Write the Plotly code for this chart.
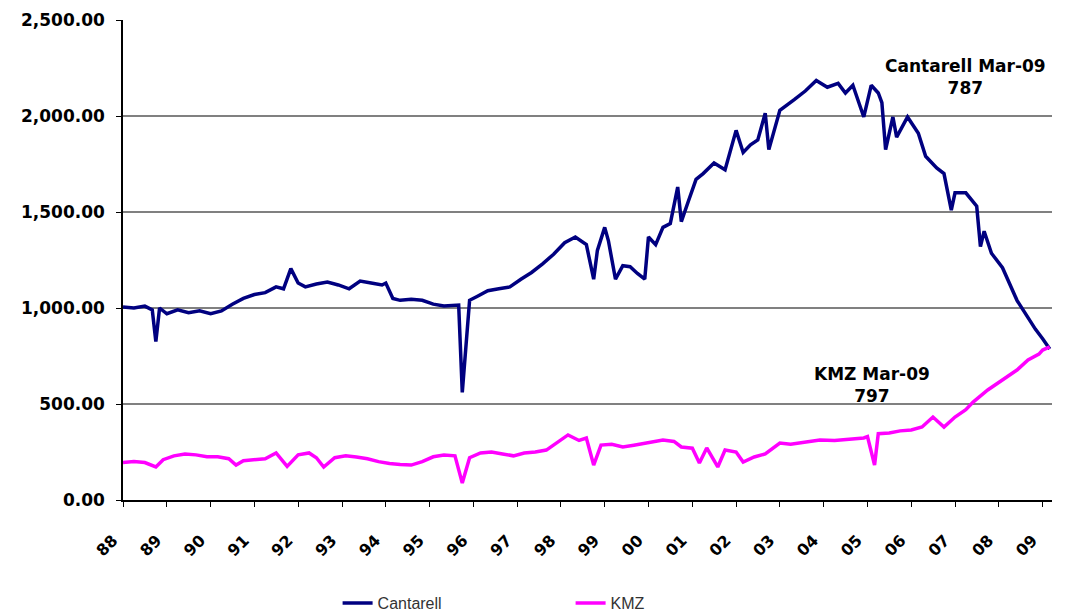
import plotly.graph_objects as go

# Cantarell field production (thousand barrels per day)
cantarell_dates = [
    "1988-01", "1988-04", "1988-07", "1988-09", "1988-10", "1988-11",
    "1989-01", "1989-04", "1989-07", "1989-10", "1990-01", "1990-04",
    "1990-07", "1990-10", "1991-01", "1991-04", "1991-07", "1991-09",
    "1991-11", "1992-01", "1992-03", "1992-06", "1992-09", "1992-12",
    "1993-03", "1993-06", "1993-09", "1993-12", "1994-01", "1994-03",
    "1994-05", "1994-08", "1994-11", "1995-02", "1995-05", "1995-09",
    "1995-10", "1995-12", "1996-02", "1996-05", "1996-08", "1996-11",
    "1997-02", "1997-05", "1997-08", "1997-11", "1998-02", "1998-05",
    "1998-08", "1998-10", "1998-11", "1999-01", "1999-02", "1999-04",
    "1999-06", "1999-08", "1999-10", "1999-12", "2000-01", "2000-03",
    "2000-05", "2000-07", "2000-09", "2000-10", "2000-12", "2001-02",
    "2001-04", "2001-07", "2001-10", "2002-01", "2002-03", "2002-05",
    "2002-07", "2002-09", "2002-10", "2003-01", "2003-05", "2003-08",
    "2003-11", "2004-02", "2004-05", "2004-07", "2004-09", "2004-12",
    "2005-02", "2005-04", "2005-05", "2005-06", "2005-08", "2005-09",
    "2005-12", "2006-03", "2006-05", "2006-08", "2006-10", "2006-12",
    "2007-01", "2007-04", "2007-07", "2007-08", "2007-09", "2007-11",
    "2008-02", "2008-04", "2008-06", "2008-09", "2008-11", "2009-01",
    "2009-03",
]
cantarell_values = [
    1005, 1000, 1010, 990, 825, 1000,
    970, 990, 975, 985, 970, 985,
    1020, 1050, 1070, 1080, 1110, 1100,
    1205, 1130, 1110, 1125, 1135, 1120,
    1100, 1140, 1130, 1120, 1130, 1050,
    1040, 1045, 1040, 1020, 1010, 1015,
    560, 1040, 1060, 1090, 1100, 1110,
    1150, 1185, 1230, 1280, 1340, 1370,
    1330, 1150, 1300, 1420, 1350, 1150,
    1220, 1215, 1180, 1150, 1370, 1330,
    1420, 1440, 1630, 1450, 1560, 1670,
    1700, 1755, 1720, 1925, 1810, 1850,
    1875, 2015, 1825, 2030, 2085, 2130,
    2185, 2150, 2170, 2120, 2160, 1995,
    2160, 2120, 2070, 1825, 1995, 1890,
    1995, 1910, 1790, 1730, 1700, 1510,
    1600, 1600, 1530, 1320, 1400, 1285,
    1210, 1120, 1040, 950, 890, 840,
    787,
]

# Ku-Maloob-Zaap production (thousand barrels per day)
kmz_dates = [
    "1988-01", "1988-04", "1988-07", "1988-10", "1988-12", "1989-03",
    "1989-06", "1989-09", "1989-12", "1990-03", "1990-06", "1990-08",
    "1990-10", "1991-01", "1991-04", "1991-07", "1991-10", "1992-01",
    "1992-04", "1992-06", "1992-08", "1992-11", "1993-02", "1993-05",
    "1993-08", "1993-11", "1994-02", "1994-05", "1994-08", "1994-11",
    "1995-02", "1995-05", "1995-08", "1995-10", "1995-12", "1996-03",
    "1996-06", "1996-09", "1996-12", "1997-03", "1997-06", "1997-09",
    "1997-12", "1998-03", "1998-06", "1998-08", "1998-10", "1998-12",
    "1999-03", "1999-06", "1999-09", "2000-01", "2000-05", "2000-08",
    "2000-10", "2001-01", "2001-03", "2001-05", "2001-08", "2001-10",
    "2002-01", "2002-03", "2002-06", "2002-09", "2003-01", "2003-04",
    "2003-08", "2003-12", "2004-04", "2004-08", "2004-12", "2005-01",
    "2005-03", "2005-04", "2005-07", "2005-10", "2006-01", "2006-04",
    "2006-07", "2006-10", "2007-01", "2007-04", "2007-06", "2007-10",
    "2008-03", "2008-06", "2008-09", "2008-12", "2009-01", "2009-03",
]
kmz_values = [
    195, 200, 195, 172, 210, 230,
    240, 235, 225, 225, 215, 182,
    205, 210, 215, 245, 175, 235,
    245, 220, 172, 220, 230, 224,
    215, 200, 190, 185, 182, 200,
    225, 234, 230, 88, 220, 245,
    250, 240, 230, 245, 250, 260,
    300, 339, 310, 323, 182, 286,
    290, 276, 285, 300, 312, 305,
    276, 270, 193, 271, 172, 260,
    250, 198, 224, 240, 297, 290,
    300, 312, 310, 315, 323, 330,
    182, 345, 349, 360, 365, 380,
    432, 380, 432, 470, 510, 573,
    640, 677, 729, 760, 781, 797,
]

series_names = ["Cantarell", "KMZ"]
series_colors = ["#000080", "#FF00FF"]

y_ticks = [0, 500, 1000, 1500, 2000, 2500]

notes = [
    ("Cantarell Mar-09<br>787", 0.907, 0.881),
    ("KMZ Mar-09<br>797", 0.806, 0.240),
]

fig = go.Figure()
for name, color, xs, ys in [
    (series_names[0], series_colors[0], cantarell_dates, cantarell_values),
    (series_names[1], series_colors[1], kmz_dates, kmz_values),
]:
    fig.add_trace(go.Scatter(
        x=xs, y=ys, mode="lines", name=name,
        line=dict(color=color, width=3.5),
    ))

bold_font = dict(family="DejaVu Sans", size=17, color="#000000", weight="bold")

for text, px, py in notes:
    fig.add_annotation(
        text=text, x=px, y=py, xref="paper", yref="paper",
        xanchor="center", yanchor="middle",
        showarrow=False, font=bold_font, align="center",
    )

fig.update_layout(
    width=1072, height=615,
    margin=dict(l=123, r=20, t=20, b=115, autoexpand=False),
    paper_bgcolor="white", plot_bgcolor="white",
    showlegend=True,
    legend=dict(
        orientation="h", x=0.231, y=-0.215, xanchor="left", yanchor="middle",
        font=dict(family="Liberation Sans", size=16, color="#333333"),
        entrywidth=188, entrywidthmode="pixels",
        bgcolor="rgba(0,0,0,0)",
    ),
    xaxis=dict(
        type="date", automargin=False,
        range=["1988-01-01", "2009-03-20"],
        tick0="1988-01-01", dtick="M12", tickformat="%y",
        tickangle=-45,
        ticks="outside", ticklen=5, tickcolor="#000000",
        ticklabelstandoff=18, ticklabelshift=-10,
        showline=True, linecolor="#000000", linewidth=1.5,
        showgrid=False, zeroline=False,
        tickfont=dict(family="DejaVu Sans", size=16, color="#000000", weight="bold"),
    ),
    yaxis=dict(
        range=[0, 2500], tickvals=y_ticks, tickformat=",.2f",
        automargin=False,
        ticks="outside", ticklen=5, tickcolor="#000000",
        ticklabelstandoff=8,
        showline=True, linecolor="#000000", linewidth=1.5,
        showgrid=True, gridcolor="#808080", gridwidth=2,
        zeroline=False,
        tickfont=dict(family="DejaVu Sans", size=17, color="#000000", weight="bold"),
    ),
)

fig.write_html("out.html")
